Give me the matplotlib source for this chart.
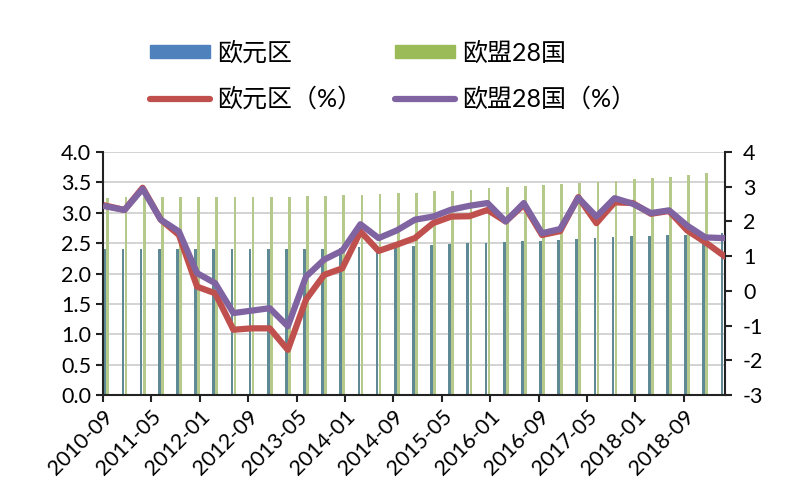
import numpy as np
import matplotlib
matplotlib.use('Agg')
import matplotlib.pyplot as plt
from matplotlib.patches import Patch
from matplotlib.lines import Line2D

plt.rcParams['font.family'] = ['Lato', 'Noto Sans CJK SC', 'DejaVu Sans']
plt.rcParams['axes.unicode_minus'] = False

# quarterly data, 2010-09 .. 2019-03
euroBars = [2.41, 2.41, 2.41, 2.41, 2.41, 2.41, 2.40, 2.40, 2.40, 2.40,
            2.40, 2.41, 2.41, 2.42, 2.43, 2.44, 2.45, 2.46, 2.47, 2.48,
            2.50, 2.51, 2.52, 2.53, 2.54, 2.55, 2.57, 2.58, 2.60, 2.61,
            2.62, 2.63, 2.64, 2.65, 2.66]
eu28Bars = [3.24, 3.26, 3.26, 3.26, 3.26, 3.26, 3.26, 3.26, 3.26, 3.26,
            3.26, 3.27, 3.28, 3.29, 3.30, 3.31, 3.32, 3.33, 3.35, 3.36,
            3.38, 3.40, 3.42, 3.44, 3.45, 3.47, 3.49, 3.51, 3.53, 3.55,
            3.57, 3.59, 3.62, 3.65, 3.68]
euroPct = [2.45, 2.33, 2.97, 2.05, 1.61, 0.12, -0.07, -1.12, -1.08, -1.08,
           -1.70, -0.25, 0.46, 0.65, 1.71, 1.15, 1.33, 1.52, 1.95, 2.14,
           2.15, 2.33, 2.00, 2.48, 1.61, 1.72, 2.70, 1.95, 2.55, 2.53,
           2.22, 2.30, 1.74, 1.40, 1.02]
eu28Pct = [2.43, 2.33, 2.94, 2.05, 1.71, 0.51, 0.22, -0.64, -0.57, -0.50,
           -1.02, 0.41, 0.90, 1.16, 1.92, 1.52, 1.74, 2.05, 2.14, 2.34,
           2.45, 2.53, 2.00, 2.53, 1.66, 1.78, 2.68, 2.14, 2.67, 2.51,
           2.24, 2.32, 1.88, 1.54, 1.52]
tickLabels = ['2010-09', '2011-05', '2012-01', '2012-09', '2013-05',
              '2014-01', '2014-09', '2015-05', '2016-01', '2016-09',
              '2017-05', '2018-01', '2018-09']

blue = '#4F81BD'
green = '#9BBB59'
red = '#C0504D'
purple = '#8064A2'


def main():
    fig = plt.figure(figsize=(8, 5), dpi=100)
    ax = fig.add_axes([103 / 800, 105 / 500, 622 / 800, 243 / 500])

    # x in months since 2010-09
    x = np.arange(len(euroPct)) * 3 + 0.55
    ax.bar(x - 0.25, euroBars, width=0.45, color='#5f8a95', zorder=2)
    ax.bar(x + 0.25, eu28Bars, width=0.45, color='#b5c98a', zorder=2)

    ax.set_xlim(0, 102.8)
    ax.set_ylim(0, 4)
    ax.set_yticks(np.arange(0, 4.01, 0.5))
    ax.set_yticklabels(['%.1f' % v for v in np.arange(0, 4.01, 0.5)])
    ax.set_xticks(np.arange(len(tickLabels)) * 8)
    ax.set_xticklabels(tickLabels, rotation=45, ha='right', rotation_mode='anchor')
    ax.yaxis.grid(True, color='#cccccc', lw=1.2, zorder=0)
    ax.set_axisbelow(True)
    ax.spines['top'].set_visible(False)
    ax.spines['right'].set_visible(False)
    for s in ['left', 'bottom']:
        ax.spines[s].set_color('#222222')
        ax.spines[s].set_linewidth(1.5)
    ax.tick_params(axis='both', labelsize=15.5, length=5, width=1.5, color='#222222')
    ax.tick_params(axis='x', pad=3)

    ax2 = ax.twinx()
    ax2.plot(x, euroPct, color=red, lw=4.5, solid_joinstyle='round', zorder=3)
    ax2.plot(x, eu28Pct, color=purple, lw=4.5, solid_joinstyle='round', zorder=4)
    ax2.set_ylim(-3, 4)
    ax2.set_yticks(range(-3, 5))
    ax2.spines['top'].set_visible(False)
    ax2.spines['left'].set_visible(False)
    ax2.spines['bottom'].set_visible(False)
    ax2.spines['right'].set_color('#222222')
    ax2.spines['right'].set_linewidth(1.5)
    ax2.tick_params(axis='y', labelsize=15.5, length=5, width=1.5, color='#222222', pad=8)

    handles = [Patch(color=blue), Patch(color=green),
               Line2D([], [], color=red, lw=4.5, solid_capstyle='round'),
               Line2D([], [], color=purple, lw=4.5, solid_capstyle='round')]
    labels = ['欧元区', '欧盟28国', '欧元区（%）', '欧盟28国（%）']
    order = [0, 2, 1, 3]
    fig.legend([handles[i] for i in order], [labels[i] for i in order],
               loc='upper left', bbox_to_anchor=(150 / 800, 1 - 41 / 500),
               ncol=2, frameon=False, fontsize=18, handlelength=2.4,
               handleheight=0.45, handletextpad=0.3, labelspacing=0.9,
               columnspacing=1.3, borderpad=0, borderaxespad=0)

    fig.savefig('out.png', dpi=100)


if __name__ == "__main__":
    main()
